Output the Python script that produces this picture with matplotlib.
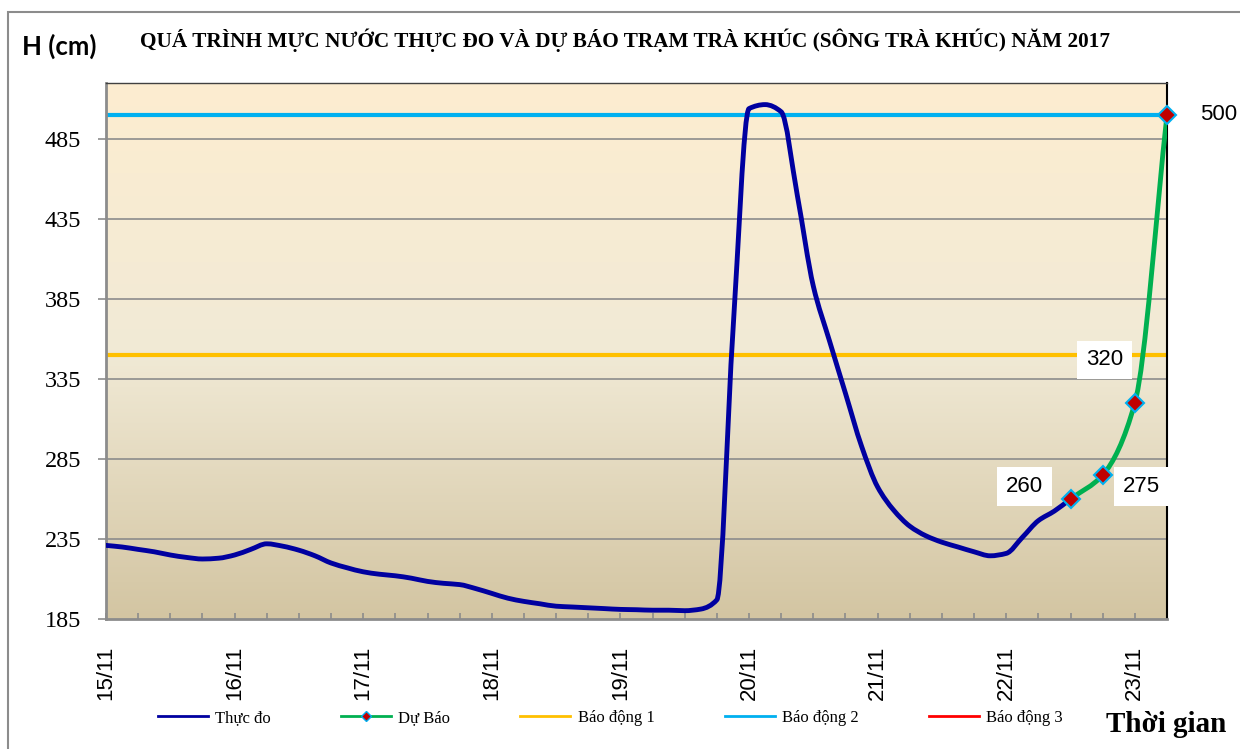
import numpy as np
import matplotlib
matplotlib.use('Agg')
import matplotlib.pyplot as plt
from matplotlib.path import Path
from matplotlib.patches import PathPatch, Rectangle
from matplotlib.lines import Line2D
from matplotlib.colors import LinearSegmentedColormap

SERIF = ['Liberation Serif', 'DejaVu Serif']
SANS = ['Liberation Sans', 'DejaVu Sans']

# Observed water level (cm), every 3 hours from 15/11 00h
obs_step = 3
obs_level = [231, 230, 228.5, 227, 225, 223.5, 222.5, 223, 225, 228.5,
             232, 230.5, 228, 224.5, 220, 217, 214.5, 213, 212, 210.5,
             208.5, 207.3, 206.5, 204, 201, 198, 196, 194.5, 193, 192.5,
             192, 191.5, 191, 190.8, 190.5, 190.5, 190.2, 191.2, 197, 365,
             504, 506.5, 502, 450, 393, 359, 326, 293, 267.5, 253,
             243, 237, 233, 230, 227, 224.5, 226, 236, 246.5, 252.5,
             260]

# Forecast (hours from 15/11 00h)
fc_hours = [180, 186, 192, 198]
fc_level = [260, 275, 320, 500]

# Alarm levels
bao_dong_1 = 350
bao_dong_2 = 500
bao_dong_3 = 650

day_labels = ['15/11', '16/11', '17/11', '18/11', '19/11',
              '20/11', '21/11', '22/11', '23/11']
y_ticks = [185, 235, 285, 335, 385, 435, 485]


def pchip_slopes(x, y):
    h = np.diff(x)
    d = np.diff(y) / h
    m = np.zeros(len(y))
    m[0], m[-1] = d[0], d[-1]
    for k in range(1, len(y) - 1):
        if d[k - 1] * d[k] <= 0:
            m[k] = 0
        else:
            w1 = 2 * h[k] + h[k - 1]
            w2 = h[k] + 2 * h[k - 1]
            m[k] = (w1 + w2) / (w1 / d[k - 1] + w2 / d[k])
    return m


def smooth_path(x, y):
    x = np.asarray(x, float)
    y = np.asarray(y, float)
    m = pchip_slopes(x, y)
    verts = [(x[0], y[0])]
    codes = [Path.MOVETO]
    for i in range(len(x) - 1):
        dx = x[i + 1] - x[i]
        verts += [(x[i] + dx / 3, y[i] + m[i] * dx / 3),
                  (x[i + 1] - dx / 3, y[i + 1] - m[i + 1] * dx / 3),
                  (x[i + 1], y[i + 1])]
        codes += [Path.CURVE4] * 3
    return Path(verts, codes)


fig = plt.figure(figsize=(12.4, 7.49), dpi=100)
ax = fig.add_axes([106 / 1240, 130 / 749, 1061 / 1240, 536 / 749])

x_max = fc_hours[-1]
y_min, y_max = 185, 520
ax.set_xlim(0, x_max)
ax.set_ylim(y_min, y_max)

# gradient background
cmap = LinearSegmentedColormap.from_list(
    'bg', [(0, '#D3C5A2'), (0.5, '#F1EAD6'), (1, '#FDEDD0')])
grad = np.linspace(0, 1, 256).reshape(-1, 1)
ax.imshow(grad, cmap=cmap, origin='lower', aspect='auto',
          extent=[0, x_max, y_min, y_max], zorder=0)

for yv in y_ticks[1:]:
    ax.axhline(yv, color='#8C8C8C', lw=1.2, zorder=1)

ax.axhline(bao_dong_1, color='#FFC000', lw=3, zorder=2)
ax.axhline(bao_dong_2, color='#00B0F0', lw=3, zorder=2)
ax.axhline(bao_dong_3, color='#FF0000', lw=3, zorder=2)

obs_hours = np.arange(len(obs_level)) * obs_step
ax.add_patch(PathPatch(smooth_path(obs_hours, obs_level), fill=False,
                       edgecolor='#0000A0', lw=3.5, zorder=3,
                       capstyle='round', joinstyle='round'))
ax.add_patch(PathPatch(smooth_path(fc_hours, fc_level), fill=False,
                       edgecolor='#00B050', lw=3.5, zorder=4,
                       capstyle='round'))
ax.plot(fc_hours, fc_level, ls='none', marker='D', ms=9,
        mfc='#C00000', mec='#00B0F0', mew=1.5, zorder=5, clip_on=False)

# value labels
offsets = [(-33, 9), (28, -8), (-22, 31), (37, 0)]
for xv, yv, off in zip(fc_hours, fc_level, offsets):
    ax.annotate(f'{yv}', (xv, yv), xytext=off, textcoords='offset points',
                ha='center', va='center', fontsize=16, family=SANS,
                bbox=dict(boxstyle='square,pad=0.4', fc='white', ec='none'),
                zorder=6, annotation_clip=False)

# axes styling
ax.set_xticks(np.arange(0, x_max, 24))
ax.set_xticklabels(day_labels, rotation=90, family=SANS, fontsize=16)
ax.set_xticks(np.arange(0, x_max + 1, 6), minor=True)
ax.tick_params(axis='x', which='both', direction='in', length=4,
               color='#8C8C8C', width=1.2, pad=19)
ax.set_yticks(y_ticks)
ax.set_yticklabels([str(v) for v in y_ticks], family=SERIF, fontsize=17.5)
ax.tick_params(axis='y', direction='out', length=6, color='#8C8C8C',
               width=1.2, pad=12)

ax.spines['left'].set_color('#8C8C8C')
ax.spines['left'].set_linewidth(2)
ax.spines['bottom'].set_color('#8C8C8C')
ax.spines['bottom'].set_linewidth(2)
ax.spines['top'].set_color('#404040')
ax.spines['top'].set_linewidth(1)
ax.spines['right'].set_color('black')
ax.spines['right'].set_linewidth(1.5)

# chart border
fig.add_artist(Rectangle((8 / 1240, -0.05), 1.2, 1 - 12 / 749 + 0.05,
                         transform=fig.transFigure, fill=False,
                         edgecolor='#8C8C8C', lw=1.5))

fig.text(22 / 1240, 1 - 46 / 749, 'H (cm)', family=['Lato', 'DejaVu Sans'],
         fontweight='bold', fontsize=18.5, va='center', ha='left')
fig.text(140 / 1240, 1 - 40 / 749,
         'QUÁ TRÌNH MỰC NƯỚC THỰC ĐO VÀ DỰ BÁO TRẠM TRÀ KHÚC (SÔNG TRÀ KHÚC) NĂM 2017',
         family=SERIF, fontweight='bold', fontsize=15.3, va='center', ha='left')
fig.text(1106 / 1240, 1 - 724 / 749, 'Thời gian', family=SERIF,
         fontweight='bold', fontsize=21, va='center', ha='left')

handles = [
    Line2D([], [], color='#0000A0', lw=2),
    Line2D([], [], color='#00B050', lw=2, marker='D', ms=5,
           mfc='#C00000', mec='#00B0F0', mew=1),
    Line2D([], [], color='#FFC000', lw=2),
    Line2D([], [], color='#00B0F0', lw=2),
    Line2D([], [], color='#FF0000', lw=2),
]
labels = ['Thực đo', 'Dự Báo', 'Báo động 1', 'Báo động 2', 'Báo động 3']
fig.legend(handles, labels, loc='center left',
           bbox_to_anchor=(151 / 1240, 1 - 718 / 749), ncol=5, frameon=False,
           prop={'family': SERIF, 'size': 12}, handlelength=3.0,
           handletextpad=0.45, columnspacing=4.2, borderaxespad=0)

fig.savefig('out.png', dpi=100)
